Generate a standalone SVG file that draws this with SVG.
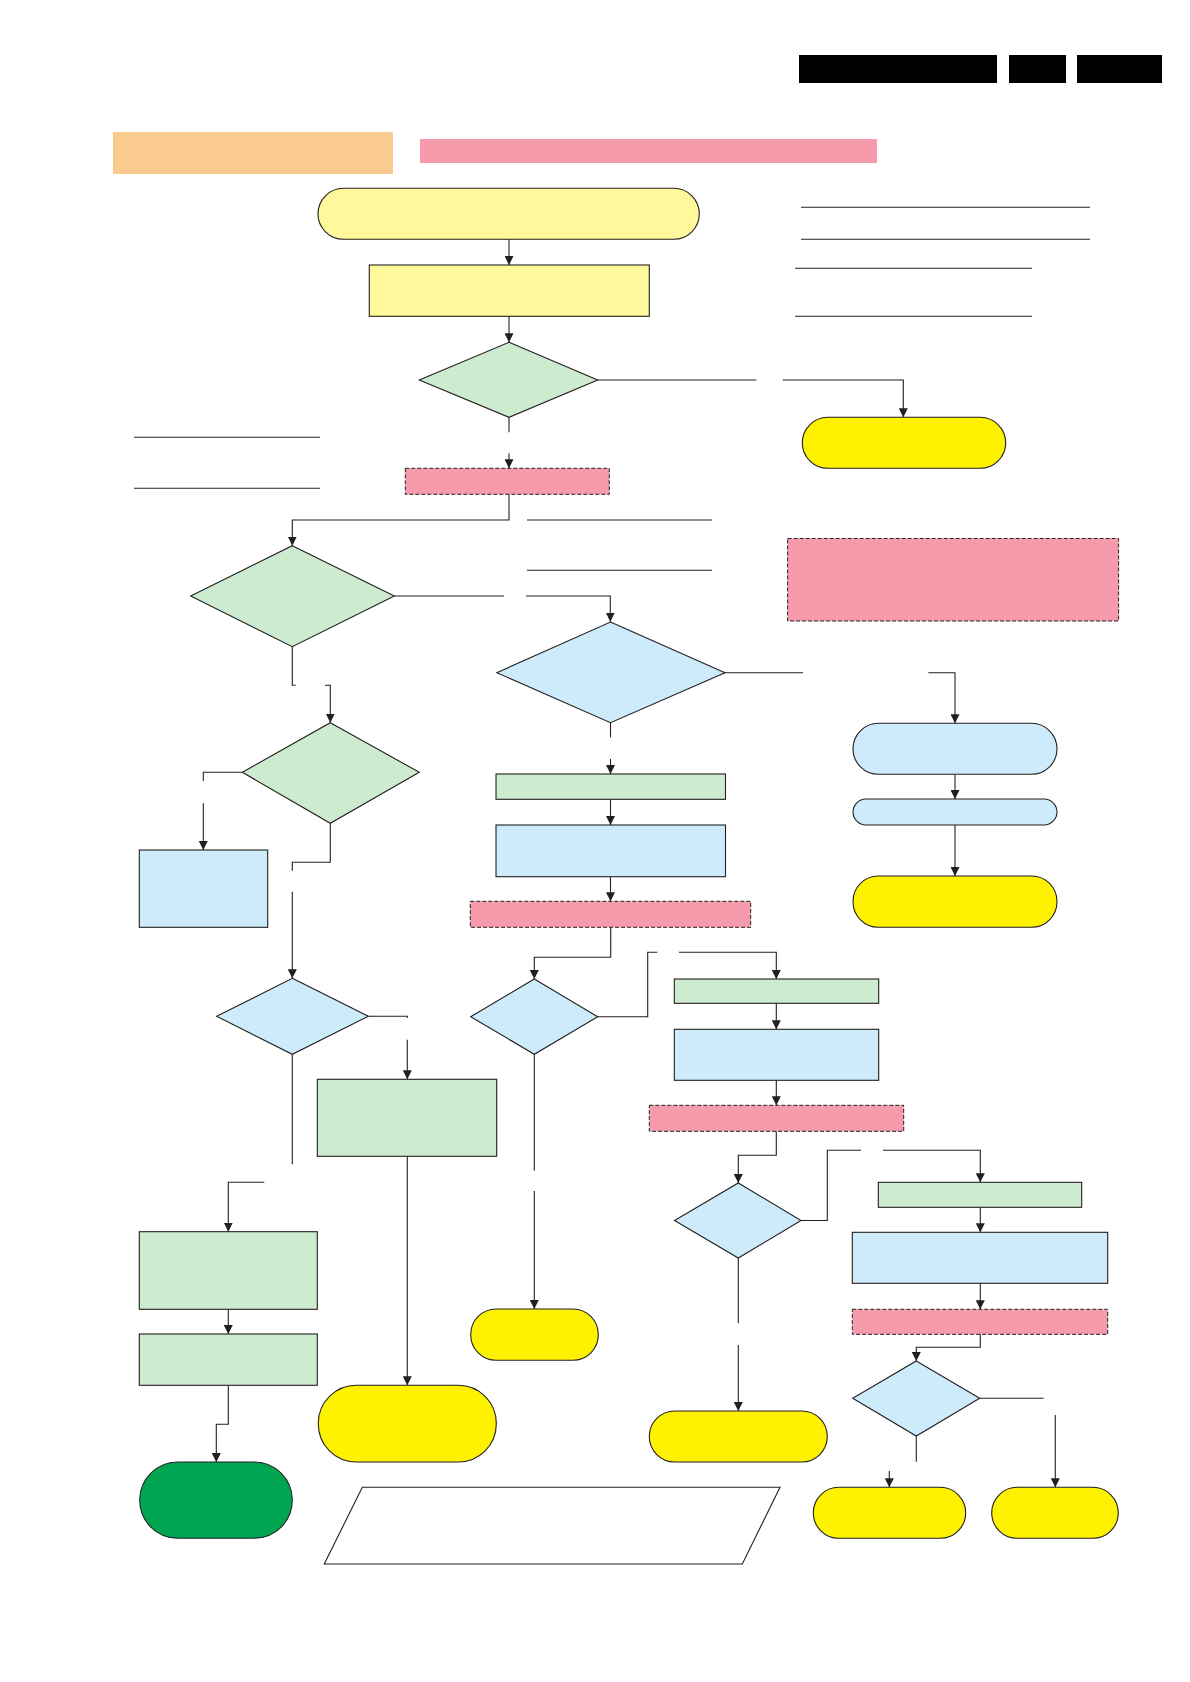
<svg xmlns="http://www.w3.org/2000/svg" width="1190" height="1682" viewBox="0 0 1190 1682">
<defs>
<style>
.ln{fill:none;stroke:#231f20;stroke-width:1.1}
.ar{marker-end:url(#ah)}
.nd{stroke:#231f20;stroke-width:1.1}
.ly{fill:#fff99b}
.yl{fill:#fff200}
.gr{fill:#cdebcf}
.bl{fill:#cdebfa}
.pk{fill:#f59bab}
.pd{fill:#f59bab;stroke:#231f20;stroke-width:1;stroke-dasharray:4 2}
.dg{fill:#00a551}
.wh{fill:#ffffff}
.blk{fill:#000000}
</style>
<marker id="ah" viewBox="0 0 10 10" refX="10" refY="5" markerWidth="9" markerHeight="9" markerUnits="userSpaceOnUse" orient="auto">
<path d="M0,0 L10,5 L0,10 z" fill="#231f20"/>
</marker>
</defs>
<rect width="1190" height="1682" fill="#ffffff"/>

<g id="header">
<rect class="blk" x="799" y="55" width="198" height="28"/>
<rect class="blk" x="1009" y="55" width="57" height="28"/>
<rect class="blk" x="1077" y="55" width="85" height="28"/>
<rect x="113" y="132" width="280" height="42" fill="#facb8f"/>
<rect class="pk" x="420" y="139" width="457" height="24"/>
</g>

<g id="rules">
<line class="ln" x1="801" y1="207.3" x2="1090" y2="207.3"/>
<line class="ln" x1="801" y1="239.3" x2="1090" y2="239.3"/>
<line class="ln" x1="795" y1="268.3" x2="1032" y2="268.3"/>
<line class="ln" x1="795" y1="316.3" x2="1032" y2="316.3"/>
<line class="ln" x1="134" y1="437.3" x2="320" y2="437.3"/>
<line class="ln" x1="134" y1="488.3" x2="320" y2="488.3"/>
<line class="ln" x1="527" y1="520" x2="712" y2="520"/>
<line class="ln" x1="527" y1="570.3" x2="712" y2="570.3"/>
</g>

<g id="connectors">
<polyline class="ln ar" points="509,239.3 509,265"/>
<polyline class="ln ar" points="509,316.3 509,342.3"/>
<polyline class="ln" points="597.7,380 756.5,380"/>
<polyline class="ln ar" points="782.7,380 903.3,380 903.3,417.3"/>
<polyline class="ln" points="509,417.3 509,432.3"/>
<polyline class="ln ar" points="509,453.3 509,468.3"/>
<polyline class="ln ar" points="509,494.3 509,520 292.3,520 292.3,545.7"/>
<polyline class="ln" points="394.3,596 504,596"/>
<polyline class="ln ar" points="526,596 610.3,596 610.3,621.7"/>
<polyline class="ln" points="292.3,646.7 292.3,685.3 295.7,685.3"/>
<polyline class="ln ar" points="325,685.3 330.3,685.3 330.3,722.7"/>
<polyline class="ln" points="242.3,772.3 203.3,772.3 203.3,781"/>
<polyline class="ln ar" points="203.3,803.3 203.3,850"/>
<polyline class="ln" points="330.3,823.3 330.3,862.3 292.3,862.3 292.3,870.7"/>
<polyline class="ln ar" points="292.3,891.7 292.3,978.3"/>
<polyline class="ln" points="368.3,1016.3 407.3,1016.3 407.3,1018"/>
<polyline class="ln ar" points="407.3,1039.7 407.3,1079.3"/>
<polyline class="ln ar" points="407.3,1156.3 407.3,1385.3"/>
<polyline class="ln" points="292.3,1054.3 292.3,1164.3"/>
<polyline class="ln ar" points="264.3,1182.3 228.3,1182.3 228.3,1231.7"/>
<polyline class="ln ar" points="228.3,1309.3 228.3,1334"/>
<polyline class="ln ar" points="228.3,1385.3 228.3,1424.3 216.3,1424.3 216.3,1462"/>
<polyline class="ln" points="725,672.7 803,672.7"/>
<polyline class="ln ar" points="928.4,672.7 955,672.7 955,723.3"/>
<polyline class="ln ar" points="955,774.3 955,799"/>
<polyline class="ln ar" points="955,825 955,876"/>
<polyline class="ln" points="610.5,722.7 610.5,737.3"/>
<polyline class="ln ar" points="610.5,759 610.5,774"/>
<polyline class="ln ar" points="610.5,799.3 610.5,825"/>
<polyline class="ln ar" points="610.5,876.7 610.5,901.3"/>
<polyline class="ln ar" points="610.7,927.3 610.7,957.3 534.3,957.3 534.3,979"/>
<polyline class="ln" points="597.7,1016.7 647.7,1016.7 647.7,952.3 657.3,952.3"/>
<polyline class="ln ar" points="679,952.3 776.3,952.3 776.3,979"/>
<polyline class="ln ar" points="776.3,1003.3 776.3,1029.3"/>
<polyline class="ln ar" points="776.3,1080.3 776.3,1105.3"/>
<polyline class="ln ar" points="776.3,1131.3 776.3,1155.3 738.3,1155.3 738.3,1183"/>
<polyline class="ln" points="534.3,1054.3 534.3,1170.5"/>
<polyline class="ln ar" points="534.3,1191 534.3,1309"/>
<polyline class="ln" points="801,1220.5 827.3,1220.5 827.3,1150.3 861,1150.3"/>
<polyline class="ln ar" points="883,1150.3 980.3,1150.3 980.3,1182.3"/>
<polyline class="ln ar" points="980.3,1207.3 980.3,1232.3"/>
<polyline class="ln ar" points="980.3,1283.3 980.3,1309.3"/>
<polyline class="ln ar" points="980.3,1334.3 980.3,1347.3 916.3,1347.3 916.3,1361"/>
<polyline class="ln" points="738.3,1258 738.3,1323.3"/>
<polyline class="ln ar" points="738.3,1345 738.3,1411"/>
<polyline class="ln" points="979.7,1398.3 1043.7,1398.3"/>
<polyline class="ln ar" points="1055.3,1415 1055.3,1487.3"/>
<polyline class="ln" points="916.3,1436 916.3,1461.7"/>
<polyline class="ln ar" points="889.3,1471 889.3,1487.3"/>
</g>

<g id="start"><rect class="nd ly" x="318" y="188.3" width="381.3" height="51" rx="25.5"/></g>
<g id="step1"><rect class="nd ly" x="369.3" y="265" width="280" height="51.3"/></g>
<g id="dec1"><polygon class="nd gr" points="509,342.3 597.7,380 509,417.3 419.3,380"/></g>
<g id="end1"><rect class="nd yl" x="802.3" y="417.3" width="203.4" height="51" rx="25.5"/></g>
<g id="check1"><rect class="pd" x="405.3" y="468.3" width="204" height="26"/></g>
<g id="dec2"><polygon class="nd gr" points="292.3,545.7 394.3,596 292.3,646.7 190.7,596"/></g>
<g id="note1"><rect class="pd" x="787.6" y="538.5" width="331" height="82.5"/></g>
<g id="dec3"><polygon class="nd bl" points="610.5,622 725,672.7 610.5,722.7 496.8,672.7"/></g>
<g id="bpillA"><rect class="nd bl" x="853" y="723.3" width="204" height="51" rx="25.5"/></g>
<g id="bpillB"><rect class="nd bl" x="853" y="799" width="204" height="26" rx="13"/></g>
<g id="end2"><rect class="nd yl" x="853" y="876" width="204" height="51.3" rx="25.5"/></g>
<g id="gstep1"><rect class="nd gr" x="496" y="774" width="229.5" height="25.3"/></g>
<g id="bstep1"><rect class="nd bl" x="496" y="825" width="229.5" height="51.7"/></g>
<g id="check2"><rect class="pd" x="470.3" y="901.3" width="280.4" height="26"/></g>
<g id="dec4"><polygon class="nd gr" points="330.3,722.7 419.3,772.3 330.3,823.3 242.3,772.3"/></g>
<g id="bleft"><rect class="nd bl" x="139.3" y="850" width="128.4" height="77.3"/></g>
<g id="dec5"><polygon class="nd bl" points="292.3,978.3 368.3,1016.3 292.3,1054.3 216.7,1016.3"/></g>
<g id="gmid"><rect class="nd gr" x="317.3" y="1079.3" width="179.4" height="77"/></g>
<g id="dec6"><polygon class="nd bl" points="534.3,979 597.7,1016.7 534.3,1054.3 470.7,1016.7"/></g>
<g id="gstep2"><rect class="nd gr" x="674.3" y="979" width="204.4" height="24.3"/></g>
<g id="bstep2"><rect class="nd bl" x="674.3" y="1029.3" width="204.4" height="51"/></g>
<g id="check3"><rect class="pd" x="649.3" y="1105.3" width="254.4" height="26"/></g>
<g id="dec7"><polygon class="nd bl" points="738.3,1183 801,1220.5 738.3,1258 674.5,1220.5"/></g>
<g id="gstep3"><rect class="nd gr" x="878.3" y="1182.3" width="203.4" height="25"/></g>
<g id="bstep3"><rect class="nd bl" x="852.3" y="1232.3" width="255.4" height="51"/></g>
<g id="check4"><rect class="pd" x="852.3" y="1309.3" width="255.4" height="25"/></g>
<g id="dec8"><polygon class="nd bl" points="916.3,1361 979.7,1398.3 916.3,1436 852.7,1398.3"/></g>
<g id="gA"><rect class="nd gr" x="139.3" y="1231.7" width="178" height="77.6"/></g>
<g id="gB"><rect class="nd gr" x="139.3" y="1334" width="178" height="51.3"/></g>
<g id="endOk"><rect class="nd dg" x="139.7" y="1462" width="152.6" height="76.3" rx="38"/></g>
<g id="end3"><rect class="nd yl" x="318.3" y="1385.3" width="178" height="76.7" rx="38"/></g>
<g id="end4"><rect class="nd yl" x="470.7" y="1309" width="127.6" height="51.3" rx="25.5"/></g>
<g id="end5"><rect class="nd yl" x="649.3" y="1411" width="178" height="51" rx="25.5"/></g>
<g id="end6"><rect class="nd yl" x="813.3" y="1487.3" width="152.4" height="51" rx="25.5"/></g>
<g id="end7"><rect class="nd yl" x="991.7" y="1487.3" width="126.6" height="51" rx="25.5"/></g>
<g id="io"><polygon class="nd wh" points="362.3,1487.3 780,1487.3 742.3,1564 324.3,1564"/></g>
</svg>
